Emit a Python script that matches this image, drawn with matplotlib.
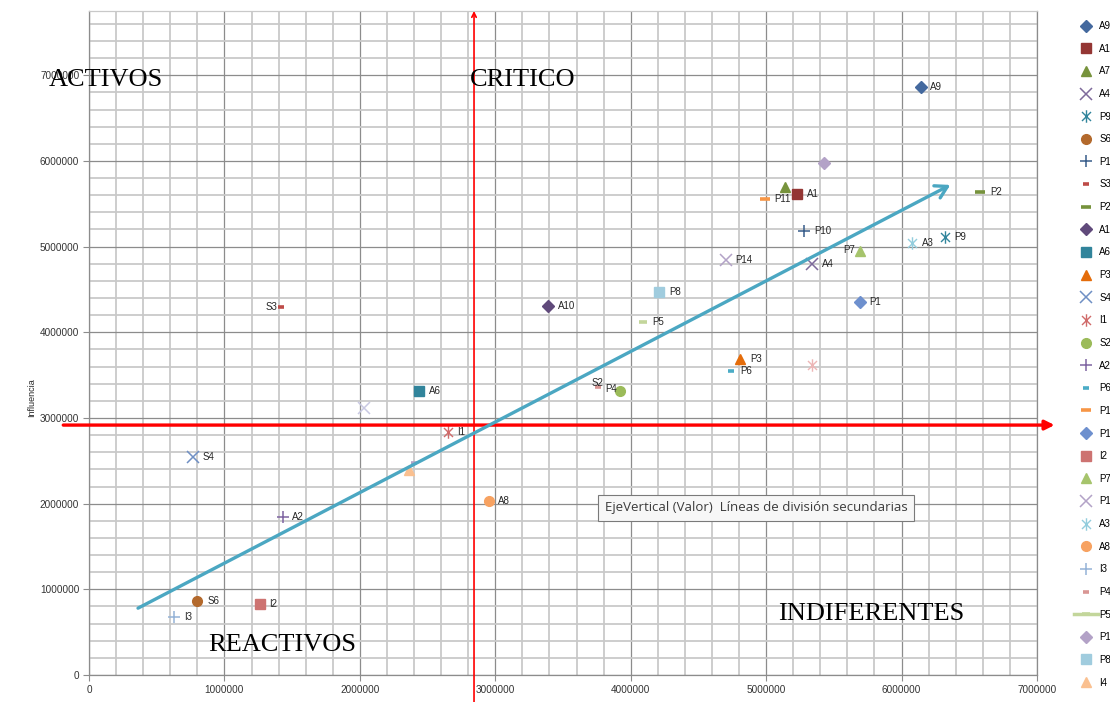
import matplotlib
matplotlib.use("Agg")
import matplotlib.pyplot as plt
from matplotlib.path import Path
from matplotlib.ticker import MultipleLocator, FuncFormatter

# ---------------- data ----------------
names = ["A9", "A1", "A7", "A4", "P9", "S6", "P10", "S3", "P2", "A10",
         "A6", "P3", "S4", "I1", "S2", "A2", "P6", "P11", "P1", "I2",
         "P7", "P14", "A3", "A8", "I3", "P4", "P5", "P12", "P8", "I4",
         "P13", "I5", "S1"]
dependencia = [6.14e6, 5.23e6, 5.14e6, 5.34e6, 6.32e6, 0.80e6, 5.28e6, 1.42e6, 6.58e6, 3.39e6,
               2.44e6, 4.81e6, 0.77e6, 2.65e6, 3.92e6, 1.43e6, 4.74e6, 4.99e6, 5.69e6, 1.26e6,
               5.69e6, 4.70e6, 6.08e6, 2.95e6, 0.63e6, 3.76e6, 4.09e6, 5.43e6, 4.21e6, 2.36e6,
               2.03e6, 5.34e6, 2.40e6]
influencia = [6.86e6, 5.61e6, 5.69e6, 4.80e6, 5.11e6, 0.86e6, 5.18e6, 4.29e6, 5.64e6, 4.31e6,
              3.32e6, 3.69e6, 2.55e6, 2.84e6, 3.31e6, 1.84e6, 3.55e6, 5.56e6, 4.35e6, 0.83e6,
              4.95e6, 4.84e6, 5.04e6, 2.03e6, 0.68e6, 3.36e6, 4.12e6, 5.98e6, 4.47e6, 2.39e6,
              3.12e6, 3.62e6, 2.48e6]
show_label = [True, True, False, True, True, True, True, True, True, True,
              True, True, True, True, True, True, True, True, True, True,
              True, True, True, True, True, True, True, False, True, False,
              False, False, False]
in_legend = [True] * 30 + [False] * 3

x_ticks = [0, 1000000, 2000000, 3000000, 4000000, 5000000, 6000000, 7000000]
y_ticks = [0, 1000000, 2000000, 3000000, 4000000, 5000000, 6000000, 7000000]
umbral_x = 2.843e6
umbral_y = 2.917e6
tendencia_inicio = (0.362e6, 0.78e6)
tendencia_fin = (6.36e6, 5.72e6)
cuadrantes = ["ACTIVOS", "CRITICO", "REACTIVOS", "INDIFERENTES"]
tooltip = "EjeVertical (Valor)  Líneas de división secundarias"
y_title = "Influencia"

# ---------------- styles ----------------
star = Path([(0, -1), (0, 1), (-0.72, -0.72), (0.72, 0.72), (-0.72, 0.72), (0.72, -0.72)],
            [Path.MOVETO, Path.LINETO, Path.MOVETO, Path.LINETO, Path.MOVETO, Path.LINETO])
styles = {
    "A9": ("D", "#44699E", 6), "A1": ("s", "#943634", 7), "A7": ("^", "#77933C", 7),
    "A4": ("x", "#7E6A9B", 8), "P9": (star, "#31859C", 9), "S6": ("o", "#B3692C", 7),
    "P10": ("+", "#385D8A", 9), "S3": ("_", "#BE4B48", 5), "P2": ("_", "#76923C", 7),
    "A10": ("D", "#604A7B", 6), "A6": ("s", "#31849B", 7), "P3": ("^", "#E46C0A", 7),
    "S4": ("x", "#6F8FC4", 8), "I1": (star, "#D06B6A", 9), "S2": ("o", "#9BBB59", 7),
    "A2": ("+", "#7F64A2", 9), "P6": ("_", "#4BACC6", 4), "P11": ("_", "#F79646", 7),
    "P1": ("D", "#6E90CE", 6), "I2": ("s", "#CD7371", 7), "P7": ("^", "#A6C46C", 7),
    "P14": ("x", "#B3A2C7", 8), "A3": (star, "#93CDDD", 9), "A8": ("o", "#F7A261", 7),
    "I3": ("+", "#95B3D7", 9), "P4": ("_", "#D99694", 4), "P5": ("_", "#C3D69B", 6),
    "P12": ("D", "#B3A2C7", 6), "P8": ("s", "#A0CCDE", 7), "I4": ("^", "#FAC090", 7),
    "P13": ("x", "#C8C8E2", 8), "I5": (star, "#EDB6B6", 9), "S1": ("_", "#B3A2C7", 5),
}
label_offsets = {"S3": (-3, 0, "right"), "P7": (-3, 1, "right"),
                 "S2": (-12, 6, "right"), "P4": (5, -1, "left")}

plt.rcParams['font.family'] = ['Liberation Sans', 'DejaVu Sans']
fig = plt.figure(figsize=(11.10, 7.02), dpi=100)
ax = fig.add_axes([89 / 1110, 27 / 702, (1037 - 89) / 1110, (675 - 11) / 702])

ax.set_xlim(0, 7.0e6)
ax.set_ylim(0, 7.75e6)
ax.set_xticks(x_ticks)
ax.set_yticks(y_ticks)
ax.xaxis.set_minor_locator(MultipleLocator(200000))
ax.yaxis.set_minor_locator(MultipleLocator(200000))
fmt = FuncFormatter(lambda v, p: f"{int(round(v))}")
ax.xaxis.set_major_formatter(fmt)
ax.yaxis.set_major_formatter(fmt)
ax.grid(which='minor', color='#c9c9c9', lw=1.3, zorder=0)
ax.grid(which='major', color='#8c8c8c', lw=0.9, zorder=0)
ax.set_axisbelow(True)
ax.tick_params(which='minor', length=0)
ax.tick_params(which='major', length=4, color='#8c8c8c', labelsize=7.2,
               labelcolor='#333333', pad=3)
for s in ax.spines.values():
    s.set_color('#8c8c8c')
    s.set_linewidth(0.9)
ax.spines['top'].set_color('#c9c9c9')

# points
handles = []
for i, n in enumerate(names):
    m, c, ms = styles[n]
    kw = dict(marker=m, color=c, ms=ms, linestyle='none', label=n, zorder=4)
    if m in ("x", "+"):
        kw["mew"] = 1.1
    elif m == "_":
        kw["mew"] = 2.6
    elif m is star:
        kw["mew"] = 1.0
        kw["mfc"] = 'none'
    if n == "P5":
        kw["linestyle"] = '-'
        kw["lw"] = 2.5
    ln, = ax.plot([dependencia[i]], [influencia[i]], **kw)
    if in_legend[i]:
        handles.append(ln)
    if show_label[i]:
        dx, dy, ha = label_offsets.get(n, (7, 0, "left"))
        ax.annotate(n, (dependencia[i], influencia[i]), xytext=(dx, dy),
                    textcoords='offset points', ha=ha, va='center',
                    fontsize=7, color='#262626', zorder=5)

# threshold lines
ax.annotate("", xy=(7.13e6, umbral_y), xytext=(-0.19e6, umbral_y),
            arrowprops=dict(arrowstyle='-|>', color='#FF0000', lw=2.4,
                            mutation_scale=14, shrinkA=0, shrinkB=0),
            annotation_clip=False, zorder=6)
ax.annotate("", xy=(umbral_x, 7.75e6), xytext=(umbral_x, -0.32e6),
            arrowprops=dict(arrowstyle='->', color='#FF0000', lw=1.2,
                            mutation_scale=8, shrinkA=0, shrinkB=0),
            annotation_clip=False, zorder=6)
# trend arrow
ax.annotate("", xy=tendencia_fin, xytext=tendencia_inicio,
            arrowprops=dict(arrowstyle='->,head_length=0.6,head_width=0.35',
                            color='#4BA7C2', lw=2.4, mutation_scale=14,
                            shrinkA=0, shrinkB=0),
            zorder=6)

# quadrant labels
qpos = [(-0.30e6, 6.95e6), (2.81e6, 6.95e6), (0.88e6, 0.35e6), (5.09e6, 0.71e6)]
for t, (qx, qy) in zip(cuadrantes, qpos):
    ax.text(qx, qy, t, fontsize=19, family='Liberation Serif', color='black',
            ha='left', va='center', clip_on=False, zorder=7)

# tooltip
fig.text(756 / 1110, (702 - 508) / 702, tooltip, fontsize=9.5, family='Open Sans',
         color='#3c3c3c', ha='center', va='center',
         bbox=dict(boxstyle='square,pad=0.5', fc='#f7f7f7', ec='#7a7a7a', lw=0.8),
         zorder=8)

fig.text(32 / 1110, (702 - 398) / 702, y_title, rotation=90, fontsize=6.5,
         color='#262626', ha='center', va='center')

leg = fig.legend(handles=handles, loc='upper left',
                 bbox_to_anchor=(1074 / 1110, (702 - 21) / 702),
                 frameon=False, fontsize=7, labelspacing=1.30, handlelength=2.45,
                 handletextpad=0.15, borderpad=0, borderaxespad=0)

fig.savefig("out.png", dpi=100)
